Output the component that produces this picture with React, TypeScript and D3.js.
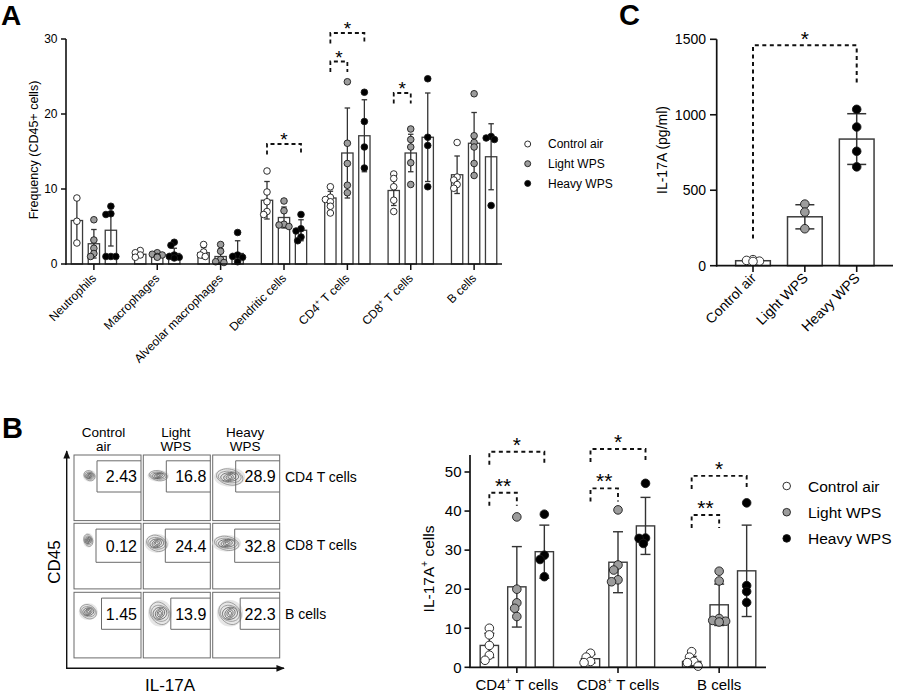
import React from 'react';
import * as d3 from 'd3';

const FONT = "'Liberation Sans', Arial, Helvetica, sans-serif";

const groups = ['Control air', 'Light WPS', 'Heavy WPS'];
const groupFill = ['#ffffff', '#9c9c9c', '#000000'];

// ---------- Panel A ----------
const cellTypesA = ['Neutrophils', 'Macrophages', 'Alveolar macrophages', 'Dendritic cells', 'CD4+ T cells', 'CD8+ T cells', 'B cells'];
const ticksA = [0, 10, 20, 30];
const meanControlA = [5.8, 1.3, 1.5, 8.5, 8.8, 9.8, 11.9];
const sdControlA = [3.0, 0.4, 0.7, 2.5, 0.9, 2.0, 2.5];
const ptsControlA = [[8.8, 5.7, 2.8], [1.8, 1.5, 1.2, 0.9], [2.6, 1.6, 1.2, 1.0], [12.4, 9.6, 8.3, 7.0, 6.6], [10.3, 8.9, 8.6, 8.3, 7.7, 6.8], [12.0, 11.4, 10.3, 8.5, 7.0], [16.2, 11.6, 11.2, 10.6, 10.1]];
const meanLightA = [2.7, 1.1, 1.0, 6.2, 14.8, 14.8, 16.1];
const sdLightA = [1.9, 0.3, 1.0, 1.4, 6.0, 2.5, 4.1];
const ptsLightA = [[5.9, 3.2, 2.1, 1.4, 1.0], [1.5, 1.3, 1.2, 1.0, 0.9], [2.6, 1.7, 0.6, 0.3, 0.2], [8.4, 7.1, 5.3, 5.0, 5.2], [24.3, 16.1, 13.4, 10.5, 9.5], [18.0, 16.6, 15.6, 13.5, 10.6], [22.7, 17.1, 16.2, 15.6, 13.4, 11.8]];
const meanHeavyA = [4.5, 1.4, 1.4, 4.5, 17.1, 16.9, 14.3];
const sdHeavyA = [2.1, 0.7, 1.7, 1.4, 4.8, 5.9, 4.4];
const ptsHeavyA = [[7.7, 6.7, 6.6, 1.0, 1.0, 1.0], [2.9, 2.5, 1.2, 1.0, 0.9, 0.8], [4.2, 1.2, 1.0, 0.9, 0.3], [6.6, 4.7, 4.4, 3.6, 3.1], [22.9, 19.0, 15.6, 12.8], [24.7, 16.9, 15.8, 10.3], [17.0, 16.6, 16.8, 7.8]];
// significance: [category index, from group, to group, level (value), label]
const sigA: [number, number, number, number, string][] = [
  [3, 0, 2, 16.0, '*'],
  [4, 0, 2, 30.8, '*'],
  [4, 0, 1, 27.0, '*'],
  [5, 0, 1, 22.8, '*'],
];

// ---------- Panel C ----------
const ticksC = [0, 500, 1000, 1500];
const meanC = [33, 324, 839];
const sdC = [5, 80, 168];
const ptsC = [[35, 40, 30, 28], [408, 355, 245], [1036, 919, 758, 655]];
const sigC = { from: 0, to: 2, level: 1460, leftEnd: 180, rightEnd: 1210, label: '*' };

// ---------- Panel B (flow) ----------
const flowHeaders = [['Control', 'air'], ['Light', 'WPS'], ['Heavy', 'WPS']];
const flowRows = ['CD4 T cells', 'CD8 T cells', 'B cells'];
const flowValues = [['2.43', '16.8', '28.9'], ['0.12', '24.4', '32.8'], ['1.45', '13.9', '22.3']];
// contour blob shape per plot: [dx, dy, rx, ry]
const flowBlobs = [
  [[15.5, 20.7, 5.5, 5], [15, 20.7, 9, 5], [17, 22, 13, 8]],
  [[14.3, 17, 4.5, 6], [13.5, 20, 10, 8], [14, 20, 12, 7]],
  [[14.3, 19.4, 8, 7], [16.7, 21, 10, 11], [17.3, 21, 11, 11]],
];

// ---------- Panel B (bars) ----------
const categoriesB = ['CD4', 'CD8', 'B'];
const ticksB = [0, 10, 20, 30, 40, 50];
const meanControlB = [5.6, 2.2, 1.5];
const sdControlB = [3.1, 1.1, 1.3];
const ptsControlB = [[10.0, 8.3, 5.6, 3.1, 1.8], [3.6, 2.6, 1.2, 1.5], [4.0, 2.6, 1.2, 0.3, 1.5]];
const meanLightB = [20.6, 26.9, 16.0];
const sdLightB = [10.3, 7.8, 5.3];
const ptsLightB = [[38.5, 20.0, 16.5, 15.1, 13.0], [40.3, 26.2, 24.9, 22.4, 21.9], [24.6, 22.1, 12.5, 11.8, 11.6, 12.0]];
const meanHeavyB = [29.6, 36.2, 24.7];
const sdHeavyB = [6.8, 7.3, 11.7];
const ptsHeavyB = [[39.2, 28.7, 27.6, 23.2], [47.1, 33.0, 33.1, 31.7], [42.1, 20.9, 19.4, 16.6]];
const sigB: [number, number, number, number, string][] = [
  [0, 0, 2, 55.2, '*'],
  [0, 0, 1, 44.7, '**'],
  [1, 0, 2, 55.9, '*'],
  [1, 0, 1, 45.8, '**'],
  [2, 0, 2, 49.0, '*'],
  [2, 0, 1, 39.0, '**'],
];

function swarm(vals: number[], y: (v: number) => number, r: number) {
  const placed: { py: number; dx: number }[] = [];
  const out: { v: number; dx: number }[] = [];
  const sorted = [...vals].sort((a, b) => b - a);
  const steps = [0, -0.5, 0.5, -1, 1, -1.5, 1.5, -2, 2];
  for (const v of sorted) {
    const py = y(v);
    let chosen = 0;
    for (const s of steps) {
      const dx = s * r;
      if (placed.every((q) => Math.hypot(q.dx - dx, q.py - py) >= 1.35 * r)) {
        chosen = dx;
        break;
      }
    }
    placed.push({ py, dx: chosen });
    out.push({ v, dx: chosen });
  }
  return out;
}

function BarSet(props: {
  cx: number; barW: number; mean: number; sd: number; pts: number[];
  y: d3.ScaleLinear<number, number>; fill: string; r: number; capW: number; sw: number;
}) {
  const { cx, barW, mean, sd, pts, y, fill, r, capW, sw } = props;
  const y0 = y(0);
  const lo = y(Math.max(0, mean - sd));
  const hi = y(mean + sd);
  const sw2 = swarm(pts, (v) => y(v), r);
  return (
    <g>
      <rect x={cx - barW / 2} y={y(mean)} width={barW} height={y0 - y(mean)} fill="#fff" stroke="#3c3c3c" strokeWidth={sw} />
      <line x1={cx} x2={cx} y1={lo} y2={hi} stroke="#333" strokeWidth={sw} />
      <line x1={cx - capW / 2} x2={cx + capW / 2} y1={hi} y2={hi} stroke="#333" strokeWidth={sw} />
      <line x1={cx - capW / 2} x2={cx + capW / 2} y1={lo} y2={lo} stroke="#333" strokeWidth={sw} />
      {sw2.map((p, i) => (
        <circle key={i} cx={cx + p.dx} cy={y(p.v)} r={r} fill={fill} stroke="#1a1a1a" strokeWidth={0.9} />
      ))}
    </g>
  );
}

function Bracket(props: { x1: number; x2: number; yl: number; e1: number; e2: number; label: string; fs: number; gap: number; sw: number; dash: string }) {
  const { x1, x2, yl, e1, e2, label, fs, gap, sw, dash } = props;
  return (
    <g>
      <path d={`M${x1},${e1}V${yl}H${x2}V${e2}`} fill="none" stroke="#111" strokeWidth={sw} strokeDasharray={dash} />
      <text x={(x1 + x2) / 2} y={yl - gap} textAnchor="middle" fontSize={fs} fontFamily={FONT}>{label}</text>
    </g>
  );
}

function CellLabel({ name, fs }: { name: string; fs: number }) {
  if (name.includes('+')) {
    const [a, b] = name.split('+');
    return (
      <>
        <tspan>{a}</tspan>
        <tspan fontSize={fs * 0.65} dy={-fs * 0.4}>+</tspan>
        <tspan dy={fs * 0.4}>{b}</tspan>
      </>
    );
  }
  return <tspan>{name}</tspan>;
}

function Blob({ cx, cy, rx, ry }: { cx: number; cy: number; rx: number; ry: number }) {
  const rings = [1, 0.8, 0.62, 0.45, 0.3, 0.16];
  const line = d3.line<[number, number]>().curve(d3.curveCardinalClosed);
  return (
    <g>
      <ellipse cx={cx} cy={cy} rx={rx * 1.2} ry={ry * 1.2} fill="#dcdcdc" opacity={0.7} />
      {rings.map((k, i) => {
        const pts: [number, number][] = d3.range(10).map((j) => {
          const a = (j / 10) * Math.PI * 2;
          const wob = 1 + 0.12 * Math.sin(a * 2 + i);
          return [cx + Math.cos(a) * rx * k * wob, cy + Math.sin(a) * ry * k * wob];
        });
        return <path key={i} d={line(pts) || ''} fill="none" stroke={i < 2 ? '#8a8a8a' : '#555'} strokeWidth={0.8} />;
      })}
    </g>
  );
}

export default function App() {
  // ---- Panel A scales ----
  const xA = d3.scalePoint<string>().domain(cellTypesA).range([66, 502]).padding(0.44);
  const yA = d3.scaleLinear().domain([0, 30]).range([264, 39]);
  const offA = d3.scalePoint<string>().domain(groups).range([-17, 17]);
  const dataA = [
    { mean: meanControlA, sd: sdControlA, pts: ptsControlA },
    { mean: meanLightA, sd: sdLightA, pts: ptsLightA },
    { mean: meanHeavyA, sd: sdHeavyA, pts: ptsHeavyA },
  ];

  // ---- Panel C scales ----
  const xC = d3.scalePoint<string>().domain(groups).range([716.7, 893]).padding(0.7);
  const yC = d3.scaleLinear().domain([0, 1500]).range([265.7, 39.3]);

  // ---- Panel B bar scales ----
  const xB = d3.scalePoint<string>().domain(categoriesB).range([470, 766]).padding(0.463);
  const yB = d3.scaleLinear().domain([0, 50]).range([667.3, 472]);
  const offB = d3.scalePoint<string>().domain(groups).range([-27.5, 27.5]);
  const dataB = [
    { mean: meanControlB, sd: sdControlB, pts: ptsControlB },
    { mean: meanLightB, sd: sdLightB, pts: ptsLightB },
    { mean: meanHeavyB, sd: sdHeavyB, pts: ptsHeavyB },
  ];
  const labelsB = ['CD4+ T cells', 'CD8+ T cells', 'B cells'];

  // ---- Flow grid geometry ----
  const colX = [74, 143.3, 212.7];
  const rowY = [455, 523.3, 592.3];
  const boxW = 67;
  const boxH = 65.6;
  const gateLeft = [23, 22, 27.5];

  return (
    <svg width={897} height={695} style={{ position: 'absolute', left: 0, top: 0, background: '#fff' }} fontFamily={FONT}>
      <rect x={0} y={0} width={897} height={695} fill="#fff" />
      <defs>
        <marker id="arrow" viewBox="0 0 10 10" refX="9" refY="5" markerWidth="6" markerHeight="6" orient="auto">
          <path d="M0,1L10,5L0,9z" fill="#111" />
        </marker>
      </defs>

      {/* ================= Panel A ================= */}
      <text x={1} y={25} fontSize={28} fontWeight="bold">A</text>
      <text transform="translate(38,150) rotate(-90)" textAnchor="middle" fontSize={12.5}>Frequency (CD45+ cells)</text>
      {ticksA.map((t) => (
        <g key={t}>
          <line x1={61} x2={66} y1={yA(t)} y2={yA(t)} stroke="#111" strokeWidth={1.5} />
          <text x={57.5} y={yA(t) + 4.2} textAnchor="end" fontSize={12}>{t}</text>
        </g>
      ))}
      {cellTypesA.map((c, ci) => (
        <g key={c}>
          {dataA.map((g, gi) => (
            <BarSet key={gi} cx={(xA(c) as number) + (offA(groups[gi]) as number)} barW={11.3}
              mean={g.mean[ci]} sd={g.sd[ci]} pts={g.pts[ci]} y={yA} fill={groupFill[gi]} r={3.3} capW={5.5} sw={1.3} />
          ))}
          <line x1={xA(c)} x2={xA(c)} y1={264} y2={270} stroke="#111" strokeWidth={1.5} />
          <text transform={`translate(${(xA(c) as number) + 3},${279}) rotate(-45)`} textAnchor="end" fontSize={12}>
            <CellLabel name={c} fs={12} />
          </text>
        </g>
      ))}
      <line x1={66} x2={66} y1={39} y2={264.7} stroke="#111" strokeWidth={1.6} />
      <line x1={65.3} x2={502} y1={264} y2={264} stroke="#111" strokeWidth={1.6} />
      {sigA.map(([ci, g1, g2, lvl, lab], i) => {
        const cx = xA(cellTypesA[ci]) as number;
        const x1 = cx + (offA(groups[g1]) as number);
        const x2 = cx + (offA(groups[g2]) as number);
        const yl = yA(lvl);
        return <Bracket key={i} x1={x1} x2={x2} yl={yl} e1={yl + 10.5} e2={yl + 10.5} label={lab} fs={19} gap={-2} sw={1.8} dash="4 3" />;
      })}
      {groups.map((g, gi) => (
        <g key={g}>
          <circle cx={527.7} cy={144 + gi * 19.7} r={3} fill={groupFill[gi]} stroke="#1a1a1a" strokeWidth={0.9} />
          <text x={548} y={144 + gi * 19.7 + 4.3} fontSize={12}>{g}</text>
        </g>
      ))}

      {/* ================= Panel C ================= */}
      <text x={619} y={25} fontSize={29} fontWeight="bold">C</text>
      <text transform="translate(667,150) rotate(-90)" textAnchor="middle" fontSize={14}>IL-17A (pg/ml)</text>
      {ticksC.map((t) => (
        <g key={t}>
          <line x1={710} x2={716.7} y1={yC(t)} y2={yC(t)} stroke="#111" strokeWidth={1.6} />
          <text x={706} y={yC(t) + 5} textAnchor="end" fontSize={14}>{t}</text>
        </g>
      ))}
      {groups.map((g, gi) => (
        <g key={g}>
          <BarSet cx={xC(g) as number} barW={34.7} mean={meanC[gi]} sd={sdC[gi]} pts={ptsC[gi]} y={yC}
            fill={groupFill[gi]} r={4.3} capW={19} sw={1.5} />
          <line x1={xC(g)} x2={xC(g)} y1={265.7} y2={272} stroke="#111" strokeWidth={1.6} />
          <text transform={`translate(${(xC(g) as number) + 4},${279}) rotate(-45)`} textAnchor="end" fontSize={14}>{g}</text>
        </g>
      ))}
      <line x1={716.7} x2={716.7} y1={39.3} y2={266.5} stroke="#111" strokeWidth={1.7} />
      <line x1={716} x2={893} y1={265.7} y2={265.7} stroke="#111" strokeWidth={1.7} />
      <Bracket x1={xC(groups[sigC.from]) as number} x2={xC(groups[sigC.to]) as number} yl={yC(sigC.level)}
        e1={yC(sigC.leftEnd)} e2={yC(sigC.rightEnd)} label={sigC.label} fs={21} gap={-1} sw={2} dash="4 3.5" />

      {/* ================= Panel B flow ================= */}
      <text x={2} y={438} fontSize={29} fontWeight="bold">B</text>
      {flowHeaders.map((h, i) => (
        <g key={i}>
          <text x={colX[i] + boxW / 2 - (i === 0 ? 4 : 1)} y={436.5} textAnchor="middle" fontSize={13.5}>{h[0]}</text>
          <text x={colX[i] + boxW / 2 - (i === 0 ? 4 : 1)} y={451.3} textAnchor="middle" fontSize={13.5}>{h[1]}</text>
        </g>
      ))}
      {flowRows.map((rname, ri) => (
        <g key={rname}>
          {flowValues[ri].map((v, ci) => {
            const bx = colX[ci];
            const by = rowY[ri];
            const gx = bx + gateLeft[ri];
            const gy1 = by + 5.8;
            const gy2 = by + (ri === 1 ? 39 : 37);
            const [dx, dy, rx, ry] = flowBlobs[ri][ci];
            return (
              <g key={ci}>
                <rect x={bx} y={by} width={boxW} height={boxH} fill="#fff" stroke="#6b6b6b" strokeWidth={1} />
                <Blob cx={bx + dx} cy={by + dy} rx={rx} ry={ry} />
                <path d={`M${bx + boxW},${gy1}H${gx}V${gy2}H${bx + boxW}`} fill="none" stroke="#6b6b6b" strokeWidth={1} />
                <text x={bx + boxW - 4} y={(gy1 + gy2) / 2 + 5.8} textAnchor="end" fontSize={16}>{v}</text>
              </g>
            );
          })}
          <text x={285} y={rowY[ri] + 27} fontSize={14}>{rname}</text>
        </g>
      ))}
      <line x1={66.7} x2={66.7} y1={669} y2={451} stroke="#111" strokeWidth={1.4} markerEnd="url(#arrow)" />
      <line x1={66} x2={284} y1={668.3} y2={668.3} stroke="#111" strokeWidth={1.4} markerEnd="url(#arrow)" />
      <text transform="translate(60,562) rotate(-90)" textAnchor="middle" fontSize={17}>CD45</text>
      <text x={170} y={691} textAnchor="middle" fontSize={17}>IL-17A</text>

      {/* ================= Panel B bars ================= */}
      <text transform="translate(434,569) rotate(-90)" textAnchor="middle" fontSize={15.5}>
        <tspan>IL-17A</tspan>
        <tspan fontSize={10} dy={-6}>+</tspan>
        <tspan dy={6}> cells</tspan>
      </text>
      {ticksB.map((t) => (
        <g key={t}>
          <line x1={464.5} x2={470} y1={yB(t)} y2={yB(t)} stroke="#111" strokeWidth={1.6} />
          <text x={461.5} y={yB(t) + 5.3} textAnchor="end" fontSize={15}>{t}</text>
        </g>
      ))}
      {categoriesB.map((c, ci) => (
        <g key={c}>
          {dataB.map((g, gi) => (
            <BarSet key={gi} cx={(xB(c) as number) + (offB(groups[gi]) as number)} barW={18.3}
              mean={g.mean[ci]} sd={g.sd[ci]} pts={g.pts[ci]} y={yB} fill={groupFill[gi]} r={4.3} capW={10} sw={1.4} />
          ))}
          <line x1={xB(c)} x2={xB(c)} y1={667.3} y2={673} stroke="#111" strokeWidth={1.6} />
          <text x={xB(c)} y={690} textAnchor="middle" fontSize={15}>
            <CellLabel name={labelsB[ci]} fs={15} />
          </text>
        </g>
      ))}
      <line x1={470} x2={470} y1={455} y2={668} stroke="#111" strokeWidth={1.7} />
      <line x1={469.3} x2={766} y1={667.3} y2={667.3} stroke="#111" strokeWidth={1.7} />
      {sigB.map(([ci, g1, g2, lvl, lab], i) => {
        const cx = xB(categoriesB[ci]) as number;
        const x1 = cx + (offB(groups[g1]) as number);
        const x2 = cx + (offB(groups[g2]) as number);
        const yl = yB(lvl);
        return <Bracket key={i} x1={x1} x2={x2} yl={yl} e1={yl + 13} e2={yl + 13} label={lab} fs={21} gap={0} sw={1.9} dash="4 3.5" />;
      })}
      {groups.map((g, gi) => (
        <g key={g}>
          <circle cx={786.7} cy={486 + gi * 26.2} r={3.8} fill={groupFill[gi]} stroke="#1a1a1a" strokeWidth={0.9} />
          <text x={808} y={486 + gi * 26.2 + 5.5} fontSize={15.5}>{g}</text>
        </g>
      ))}
    </svg>
  );
}
